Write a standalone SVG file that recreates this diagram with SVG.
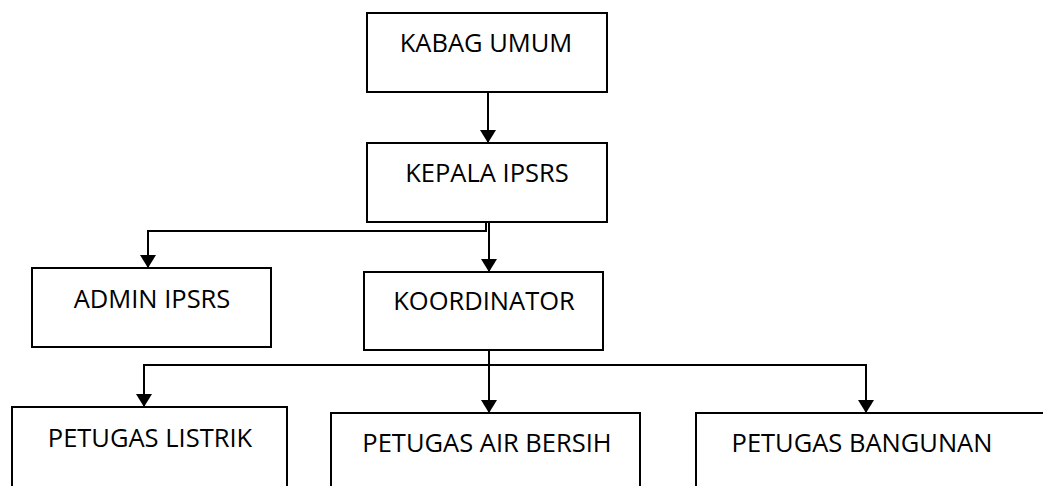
<svg xmlns="http://www.w3.org/2000/svg" width="1043" height="486" viewBox="0 0 1043 486">
<style>
.box{fill:#fff;stroke:#000;stroke-width:2}
.lbl{font-family:"Open Sans","Liberation Sans",sans-serif;font-size:25.5px;fill:#000;text-anchor:middle}
.conn{fill:none;stroke:#000;stroke-width:2}
</style>
<defs>
<marker id="arr" markerUnits="userSpaceOnUse" markerWidth="13" markerHeight="16" viewBox="0 0 13 16" refX="13" refY="8" orient="auto">
<path d="M0,0 L13,8 L0,16 z" fill="#000"/>
</marker>
</defs>
<rect width="1043" height="486" fill="#fff"/>
<g id="connectors">
<line class="conn" x1="488" y1="92" x2="488" y2="143" marker-end="url(#arr)"/>
<polyline class="conn" points="486,222 486,231 148,231 148,268" marker-end="url(#arr)" stroke-width="1.6"/>
<line class="conn" x1="489" y1="222" x2="489" y2="272" marker-end="url(#arr)"/>
<line class="conn" x1="489" y1="350" x2="489" y2="413" marker-end="url(#arr)"/>
<polyline class="conn" points="144,407 144,365 866,365 866,413" marker-end="url(#arr)"/>
<line class="conn" x1="144" y1="365" x2="144" y2="407" marker-end="url(#arr)"/>
</g>
<g id="kabag-umum">
<rect class="box" x="367" y="13" width="240" height="79"/>
<text class="lbl" x="486" y="52">KABAG UMUM</text>
</g>
<g id="kepala-ipsrs">
<rect class="box" x="367" y="143" width="240" height="79"/>
<text class="lbl" x="487" y="182">KEPALA IPSRS</text>
</g>
<g id="admin-ipsrs">
<rect class="box" x="32" y="268" width="239" height="79"/>
<text class="lbl" x="152" y="308">ADMIN IPSRS</text>
</g>
<g id="koordinator">
<rect class="box" x="364" y="272" width="239" height="78"/>
<text class="lbl" x="484" y="310">KOORDINATOR</text>
</g>
<g id="petugas-listrik">
<rect class="box" x="12" y="407" width="275" height="100"/>
<text class="lbl" x="150" y="447">PETUGAS LISTRIK</text>
</g>
<g id="petugas-air-bersih">
<rect class="box" x="331" y="413" width="309" height="100"/>
<text class="lbl" x="487" y="452">PETUGAS AIR BERSIH</text>
</g>
<g id="petugas-bangunan">
<rect class="box" x="696" y="413" width="400" height="100"/>
<text class="lbl" x="862" y="452">PETUGAS BANGUNAN</text>
</g>
</svg>
